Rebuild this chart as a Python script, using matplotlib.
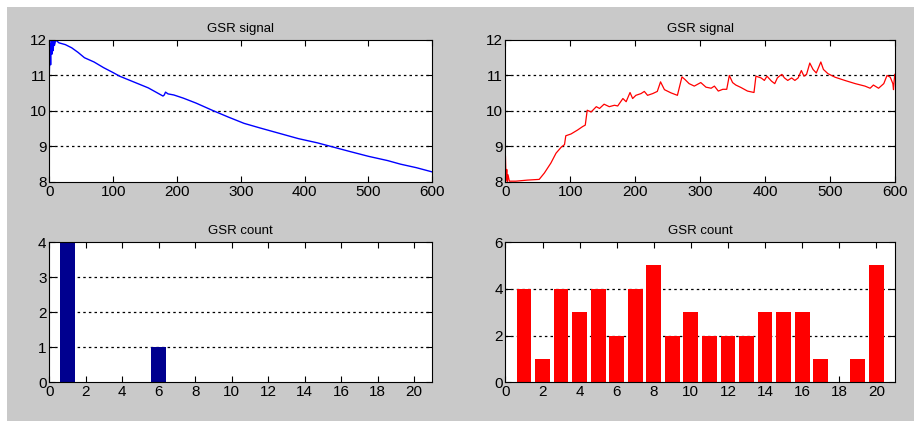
import matplotlib
matplotlib.use("Agg")
import matplotlib.pyplot as plt
from matplotlib.patches import Rectangle

# Left subject: GSR trace (time, level)
blue_t = [0, 1, 2, 3, 4, 5, 6, 7, 8, 10, 15, 25, 35, 45, 55, 70, 85, 100,
          110, 125, 140, 155, 170, 178, 180, 182, 186, 195, 210, 230, 255,
          280, 305, 330, 360, 390, 420, 445, 470, 500, 530, 550, 575, 600]
blue_v = [11.1, 11.9, 11.3, 12.0, 11.6, 11.95, 11.7, 12.0, 11.85, 12.0,
          11.92, 11.87, 11.78, 11.65, 11.5, 11.38, 11.22, 11.08, 10.98,
          10.87, 10.76, 10.65, 10.5, 10.42, 10.45, 10.53, 10.48, 10.45,
          10.36, 10.22, 10.02, 9.83, 9.65, 9.52, 9.37, 9.22, 9.1, 8.98,
          8.86, 8.72, 8.6, 8.5, 8.4, 8.28]

# Right subject: GSR trace (time, level)
red_t = [0, 1, 2, 3, 4, 6, 16, 34, 52, 60, 70, 78, 86, 91, 93, 101, 111,
         119, 123, 126, 132, 140, 145, 152, 160, 168, 173, 181, 186, 192,
         196, 201, 209, 214, 219, 227, 234, 239, 245, 255, 265, 272, 277,
         283, 291, 301, 309, 317, 322, 328, 335, 341, 345, 350, 355, 363,
         373, 383, 386, 394, 399, 403, 410, 415, 419, 422, 426, 430, 435,
         441, 446, 451, 456, 460, 464, 469, 474, 479, 486, 490, 497, 508,
         523, 539, 554, 562, 567, 575, 583, 588, 593, 597, 598, 599, 600]
red_v = [8.72, 8.05, 8.35, 8.0, 8.2, 8.02, 8.02, 8.05, 8.07, 8.25, 8.53,
         8.81, 8.98, 9.05, 9.3, 9.35, 9.46, 9.56, 9.6, 10.02, 9.97, 10.12,
         10.07, 10.19, 10.12, 10.16, 10.14, 10.35, 10.26, 10.52, 10.35,
         10.44, 10.49, 10.55, 10.44, 10.49, 10.55, 10.82, 10.6, 10.51,
         10.44, 10.96, 10.88, 10.77, 10.7, 10.8, 10.67, 10.64, 10.7, 10.56,
         10.61, 10.61, 11.0, 10.8, 10.73, 10.66, 10.56, 10.52, 10.98,
         10.93, 10.86, 10.98, 10.84, 10.77, 10.93, 10.98, 11.03, 10.93,
         10.86, 10.93, 10.86, 10.93, 11.14, 10.98, 11.03, 11.35, 11.17,
         11.07, 11.38, 11.17, 11.05, 10.95, 10.86, 10.77, 10.7, 10.64,
         10.73, 10.64, 10.77, 11.0, 10.95, 10.77, 10.6, 10.85, 11.03]

# GSR response counts per bin
bins = list(range(1, 21))
count_left = [4, 0, 0, 0, 0, 1, 0, 0, 0, 0, 0, 0, 0, 0, 0, 0, 0, 0, 0, 0]
count_right = [4, 1, 4, 3, 4, 2, 4, 5, 2, 3, 2, 2, 2, 3, 3, 3, 1, 0, 1, 5]

plt.rcParams["font.family"] = ["Liberation Sans", "DejaVu Sans"]

fig = plt.figure(figsize=(9.14, 4.21), dpi=100, facecolor="white")
fig.patches.append(Rectangle((7 / 914, 0), 1, 1 - 7 / 421,
                             transform=fig.transFigure,
                             facecolor="#c9c9c9", edgecolor="none",
                             zorder=-10))

GRID = dict(color="black", linestyle=(0, (2, 2.5)), linewidth=0.9)


def style(ax, title, yticks, grid_vals):
    ax.set_facecolor("white")
    ax.set_title(title, fontsize=9.5, pad=6)
    ax.set_yticks(yticks)
    for v in grid_vals:
        ax.axhline(v, zorder=0, **GRID)
    ax.tick_params(direction="in", top=True, right=True, length=4,
                   width=0.8, labelsize=11, pad=2)
    for s in ax.spines.values():
        s.set_linewidth(0.8)


ax1 = fig.add_axes([0.054, 0.568, 0.419, 0.337])
ax1.plot(blue_t, blue_v, color="blue", linewidth=1.0)
ax1.set_xlim(0, 600)
ax1.set_ylim(8, 12)
ax1.set_xticks(range(0, 601, 100))
style(ax1, "GSR signal", [8, 9, 10, 11, 12], [9, 10, 11])

ax2 = fig.add_axes([0.553, 0.568, 0.426, 0.337])
ax2.plot(red_t, red_v, color="red", linewidth=0.9)
ax2.set_xlim(0, 600)
ax2.set_ylim(8, 12)
ax2.set_xticks(range(0, 601, 100))
style(ax2, "GSR signal", [8, 9, 10, 11, 12], [9, 10, 11])

ax3 = fig.add_axes([0.054, 0.092, 0.419, 0.333])
ax3.bar(bins, count_left, width=0.8, color="#00008f", linewidth=0,
        zorder=2)
ax3.set_xlim(0, 21)
ax3.set_ylim(0, 4)
ax3.set_xticks(range(0, 21, 2))
style(ax3, "GSR count", [0, 1, 2, 3, 4], [1, 2, 3])

ax4 = fig.add_axes([0.553, 0.092, 0.426, 0.333])
ax4.bar(bins, count_right, width=0.8, color="red", linewidth=0,
        zorder=2)
ax4.set_xlim(0, 21)
ax4.set_ylim(0, 6)
ax4.set_xticks(range(0, 21, 2))
style(ax4, "GSR count", [0, 2, 4, 6], [2, 4])

fig.savefig("out.png", dpi=100, facecolor=fig.get_facecolor())
